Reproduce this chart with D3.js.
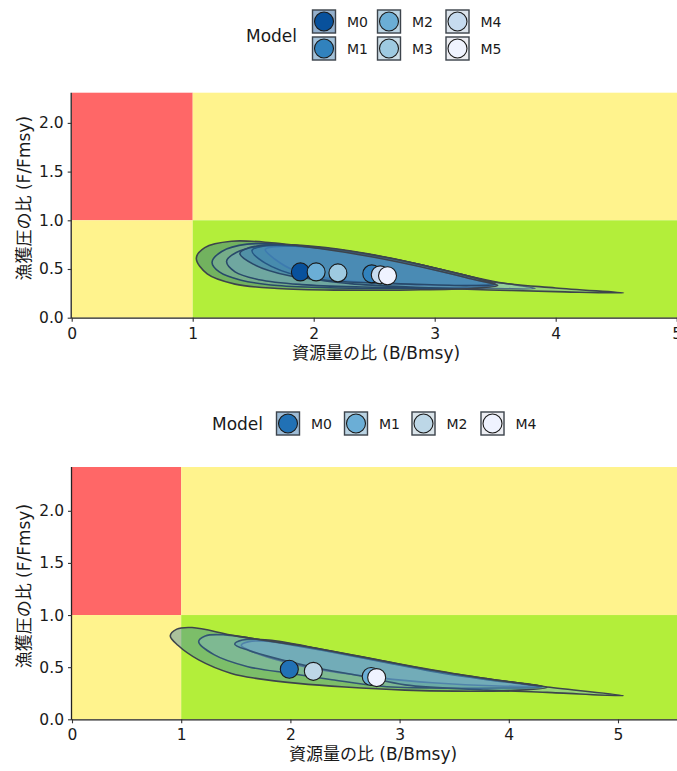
<!DOCTYPE html>
<html>
<head>
<meta charset="utf-8">
<script src="https://cdn.jsdelivr.net/npm/d3@7"></script>
<style>
  html, body { margin: 0; padding: 0; background: #ffffff; }
  svg text { font-family: "DejaVu Sans", "Noto Sans CJK JP", sans-serif; fill: #1a1a1a; }
</style>
</head>
<body>
<svg id="chart" width="677" height="771"></svg>
<script>
// ---- data -------------------------------------------------------------
const xTicks = [0, 1, 2, 3, 4, 5];
const yTicks = [0, 0.5, 1, 1.5, 2];
const xTitle = "資源量の比 (B/Bmsy)";
const yTitle = "漁獲圧の比 (F/Fmsy)";
const legendTitle = "Model";

// reference points Bmsy = 1, Fmsy = 1
const refB = 1;
const refF = 1;

// upper panel: six models
const topModels = ["M0", "M1", "M2", "M3", "M4", "M5"];
const topColors = ["#08519C", "#3182BD", "#6BAED6", "#9ECAE1", "#C6DBEF", "#EFF3FF"];
const topB = [1.89, 2.48, 2.02, 2.20, 2.55, 2.61];
const topF = [0.47, 0.45, 0.47, 0.46, 0.44, 0.43];
// confidence regions, one outline per model (B, F)
const topRegionM0 = [[1.03,0.61],[1.10,0.72],[1.32,0.785],[1.65,0.77],[2.05,0.71],[2.50,0.62],[3.00,0.49],[3.30,0.40],[3.52,0.33],[3.30,0.300],[2.80,0.285],[2.20,0.283],[1.70,0.300],[1.35,0.345],[1.12,0.45]];
const topRegionM4 = [[1.16,0.57],[1.24,0.68],[1.45,0.755],[1.80,0.745],[2.20,0.69],[2.70,0.58],[3.10,0.46],[3.40,0.37],[3.52,0.335],[3.25,0.310],[2.80,0.300],[2.20,0.305],[1.70,0.330],[1.40,0.385],[1.22,0.47]];
const topRegionM3 = [[1.28,0.58],[1.36,0.67],[1.56,0.735],[1.90,0.730],[2.30,0.675],[2.80,0.56],[3.20,0.45],[3.50,0.37],[3.83,0.300],[3.50,0.300],[3.00,0.305],[2.40,0.315],[1.90,0.340],[1.55,0.390],[1.35,0.47]];
const topRegionM1 = [[1.39,0.66],[1.47,0.72],[1.70,0.750],[2.10,0.720],[2.60,0.62],[3.00,0.51],[3.30,0.42],[3.50,0.345],[3.30,0.330],[2.80,0.345],[2.20,0.375],[1.80,0.430],[1.50,0.55]];
const topRegionM2 = [[1.49,0.69],[1.58,0.735],[1.90,0.735],[2.40,0.660],[2.90,0.54],[3.45,0.375],[4.00,0.305],[4.56,0.254],[4.00,0.268],[3.45,0.285],[2.90,0.310],[2.30,0.350],[1.90,0.420],[1.60,0.56]];
const topRegionM5 = [[1.60,0.70],[1.70,0.730],[2.00,0.725],[2.50,0.640],[3.00,0.51],[3.45,0.37],[3.50,0.350],[3.20,0.330],[2.70,0.345],[2.20,0.390],[1.85,0.480],[1.68,0.60]];
const topRegions = [topRegionM0, topRegionM1, topRegionM2, topRegionM3, topRegionM4, topRegionM5];

// lower panel: four models
const bottomModels = ["M0", "M1", "M2", "M4"];
const bottomColors = ["#2171B5", "#6BAED6", "#BDD7E7", "#EFF3FF"];
const bottomB = [1.99, 2.74, 2.21, 2.79];
const bottomF = [0.48, 0.41, 0.46, 0.40];
const bottomRegionM0 = [[0.90,0.80],[0.96,0.865],[1.10,0.880],[1.50,0.800],[2.07,0.710],[2.60,0.610],[3.05,0.520],[3.60,0.420],[4.00,0.360],[4.35,0.305],[4.00,0.275],[3.50,0.270],[3.05,0.280],[2.50,0.310],[2.07,0.345],[1.70,0.390],[1.46,0.440],[1.16,0.570],[0.97,0.71]];
const bottomRegionM2 = [[1.16,0.745],[1.22,0.800],[1.40,0.810],[1.80,0.750],[2.30,0.660],[2.80,0.560],[3.30,0.460],[3.80,0.380],[4.30,0.310],[3.90,0.300],[3.30,0.300],[2.80,0.320],[2.38,0.380],[2.00,0.440],[1.61,0.505],[1.30,0.62]];
const bottomRegionM1 = [[1.49,0.72],[1.56,0.760],[1.80,0.760],[2.30,0.670],[2.80,0.570],[3.30,0.470],[3.80,0.390],[4.35,0.310],[5.05,0.227],[4.35,0.258],[3.80,0.280],[3.05,0.330],[2.68,0.410],[2.30,0.480],[1.92,0.570],[1.62,0.66]];
const bottomRegionM4 = [[1.55,0.71],[1.62,0.745],[1.85,0.745],[2.30,0.665],[2.80,0.565],[3.30,0.465],[3.80,0.385],[4.30,0.320],[3.90,0.320],[3.30,0.350],[2.80,0.400],[2.30,0.470],[1.95,0.550],[1.65,0.65]];
const bottomRegions = [bottomRegionM0, bottomRegionM1, bottomRegionM2, bottomRegionM4];

// ---- styling ------------------------------------------------------------
const zoneRed = "#FF6767";
const zoneYellow = "#FFF38D";
const zoneGreen = "#B3EE3A";
const outline = "#3d444c";
const regionAlpha = 0.38;

const svg = d3.select("#chart");

function drawPanel(cfg) {
  const g = svg.append("g");
  const x = d3.scaleLinear().domain([0, 5]).range([cfg.left, cfg.x5]);
  const y = d3.scaleLinear().domain([0, cfg.yMax]).range([cfg.bottom, cfg.top]);
  const xMax = x.invert(677);

  const clipId = "clip" + cfg.id;
  svg.append("clipPath").attr("id", clipId)
    .append("rect")
    .attr("x", x(0)).attr("y", y(cfg.yMax))
    .attr("width", x(xMax) - x(0)).attr("height", y(0) - y(cfg.yMax));

  // status zones
  const zones = [
    { b0: 0, b1: refB, f0: refF, f1: cfg.yMax, c: zoneRed },
    { b0: refB, b1: xMax, f0: refF, f1: cfg.yMax, c: zoneYellow },
    { b0: 0, b1: refB, f0: 0, f1: refF, c: zoneYellow },
    { b0: refB, b1: xMax, f0: 0, f1: refF, c: zoneGreen }
  ];
  g.append("g").selectAll("rect").data(zones).join("rect")
    .attr("x", d => x(d.b0)).attr("y", d => y(d.f1))
    .attr("width", d => x(d.b1) - x(d.b0))
    .attr("height", d => y(d.f0) - y(d.f1))
    .attr("fill", d => d.c);

  // confidence regions, lightest model underneath so darker tints sit on top
  const line = d3.line()
    .x(d => x(d[0])).y(d => y(d[1]))
    .curve(d3.curveCatmullRomClosed.alpha(0.5));
  const regionData = cfg.regions.map((pts, i) => ({ pts, color: cfg.colors[i] })).reverse();
  g.append("g").attr("clip-path", `url(#${clipId})`)
    .selectAll("path").data(regionData).join("path")
    .attr("d", d => line(d.pts))
    .attr("fill", d => d.color)
    .attr("fill-opacity", regionAlpha)
    .attr("stroke", outline)
    .attr("stroke-width", 1.6)
    .attr("stroke-linejoin", "round");

  // point estimates
  g.append("g").selectAll("circle").data(cfg.models).join("circle")
    .attr("cx", (d, i) => x(cfg.B[i]))
    .attr("cy", (d, i) => y(cfg.F[i]))
    .attr("r", 9)
    .attr("fill", (d, i) => cfg.colors[i])
    .attr("stroke", "#1a1a1a")
    .attr("stroke-width", 1.1);

  // axes
  const xAxis = d3.axisBottom(x).tickValues(xTicks).tickSize(4).tickSizeOuter(0).tickPadding(6)
    .tickFormat(d3.format("d"));
  const gx = g.append("g").attr("transform", `translate(0,${cfg.bottom})`).call(xAxis);
  gx.select(".domain").attr("d", `M${x(0)},0.5H${x(xMax) + 2}`);
  const yAxis = d3.axisLeft(y).tickValues(yTicks).tickSize(4).tickSizeOuter(0).tickPadding(4)
    .tickFormat(d3.format(".1f"));
  const gy = g.append("g").attr("transform", `translate(${cfg.left},0)`).call(yAxis);
  gy.select(".domain").attr("d", `M-0.5,${y(cfg.yMax)}V${y(0) + 0.5}`);
  [gx, gy].forEach(a => {
    a.selectAll(".domain").attr("stroke", "#222").attr("stroke-width", 1.3);
    a.selectAll(".tick line").attr("stroke", "#333").attr("stroke-width", 1.1);
    a.selectAll(".tick text").style("font-size", "15.5px").attr("fill", "#1a1a1a");
  });

  // axis titles
  g.append("text")
    .attr("x", cfg.xTitleX).attr("y", cfg.bottom + 41)
    .attr("text-anchor", "middle")
    .style("font-size", "17px")
    .text(xTitle);
  g.append("text")
    .attr("transform", `translate(30,${(cfg.top + cfg.bottom) / 2 - 7}) rotate(-90)`)
    .attr("text-anchor", "middle")
    .style("font-size", "17px")
    .text(yTitle);
}

function drawLegend(cfg) {
  const g = svg.append("g");
  g.append("text")
    .attr("x", cfg.titleX).attr("y", cfg.titleY)
    .style("font-size", "17px")
    .text(legendTitle);
  const keys = g.selectAll("g.key").data(cfg.models).join("g")
    .attr("class", "key")
    .attr("transform", (d, i) => `translate(${cfg.keyX[i]},${cfg.keyY[i]})`);
  keys.append("rect")
    .attr("width", 24).attr("height", 24)
    .attr("fill", "#EBEBEB");
  keys.append("rect")
    .attr("x", 0.5).attr("y", 0.5)
    .attr("width", 23).attr("height", 23)
    .attr("fill", (d, i) => cfg.colors[i])
    .attr("fill-opacity", regionAlpha)
    .attr("stroke", outline)
    .attr("stroke-width", 1.4);
  keys.append("circle")
    .attr("cx", 12).attr("cy", 12).attr("r", 9.5)
    .attr("fill", (d, i) => cfg.colors[i])
    .attr("stroke", "#1a1a1a")
    .attr("stroke-width", 1.1);
  keys.append("text")
    .attr("x", 35).attr("y", 17.5)
    .style("font-size", "14px")
    .text(d => d);
}

drawPanel({
  id: "top", left: 71.7, x5: 676.7, top: 92.7, bottom: 317.7, yMax: 2.31, xTitleX: 376,
  models: topModels, colors: topColors, B: topB, F: topF, regions: topRegions
});
drawPanel({
  id: "bottom", left: 72, x5: 618, top: 467, bottom: 719.3, yMax: 2.42, xTitleX: 373,
  models: bottomModels, colors: bottomColors, B: bottomB, F: bottomF, regions: bottomRegions
});

drawLegend({
  models: topModels, colors: topColors, titleX: 246, titleY: 42,
  keyX: [312, 312, 377, 377, 445.5, 445.5],
  keyY: [9.5, 36.5, 9.5, 36.5, 9.5, 36.5]
});
drawLegend({
  models: bottomModels, colors: bottomColors, titleX: 212, titleY: 430,
  keyX: [276, 344, 411.5, 480.5],
  keyY: [411.5, 411.5, 411.5, 411.5]
});
</script>
</body>
</html>
